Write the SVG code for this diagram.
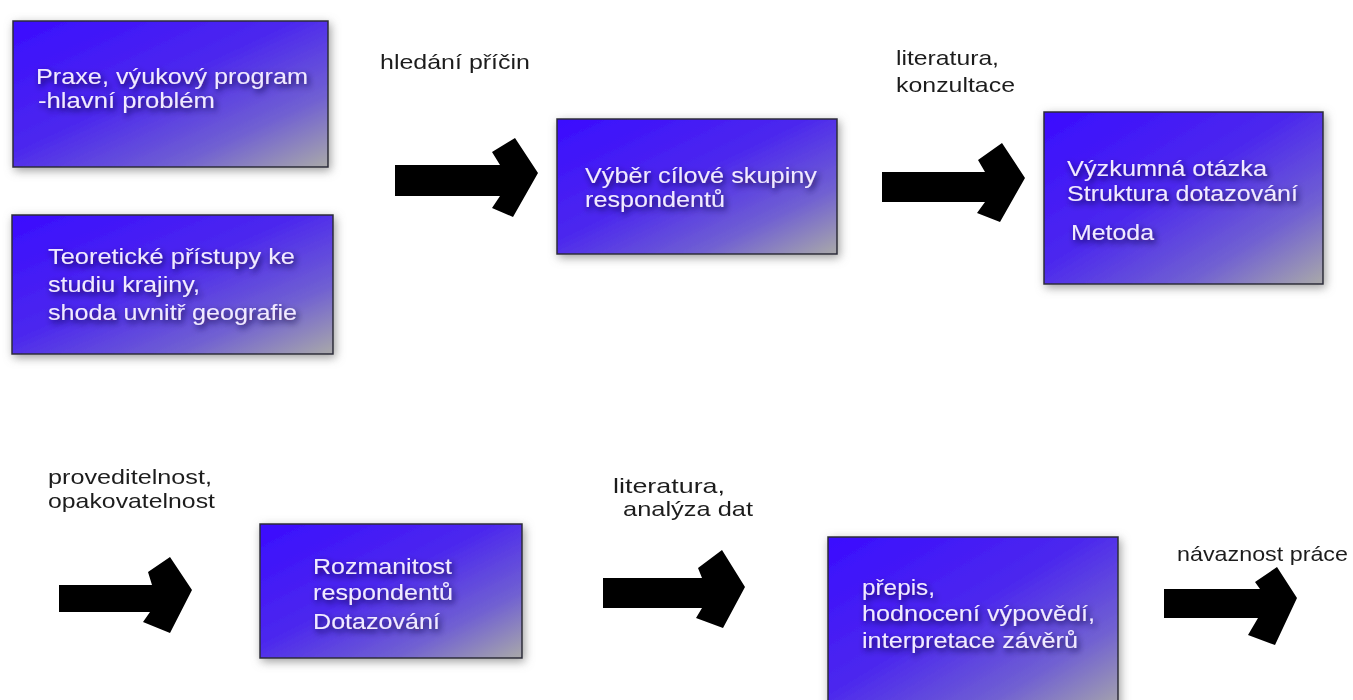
<svg xmlns="http://www.w3.org/2000/svg" width="1353" height="700" viewBox="0 0 1353 700">
<defs>
<linearGradient id="g" x1="0" y1="0" x2="1" y2="1">
<stop offset="0" stop-color="#3a0cff"/>
<stop offset="0.45" stop-color="#4c28ee"/>
<stop offset="0.75" stop-color="#7060d2"/>
<stop offset="1" stop-color="#a9a9a9"/>
</linearGradient>
<filter id="sh" x="-10%" y="-15%" width="120%" height="130%">
<feGaussianBlur in="SourceAlpha" stdDeviation="5"/>
<feOffset dx="2" dy="3" result="b"/>
<feFlood flood-color="#777" flood-opacity="0.7"/>
<feComposite in2="b" operator="in" result="s"/>
<feMerge><feMergeNode in="s"/><feMergeNode in="SourceGraphic"/></feMerge>
</filter>
<filter id="glow" x="-10%" y="-40%" width="120%" height="180%">
<feGaussianBlur in="SourceAlpha" stdDeviation="3"/>
<feOffset dx="2" dy="3" result="b"/>
<feFlood flood-color="#140830" flood-opacity="0.85"/>
<feComposite in2="b" operator="in" result="s"/>
<feMerge><feMergeNode in="s"/><feMergeNode in="SourceGraphic"/></feMerge>
</filter>
<filter id="soft"><feGaussianBlur stdDeviation="0.4"/></filter>
</defs>
<style>
.box{fill:url(#g);stroke:#2b2b3a;stroke-width:1.5;filter:url(#sh)}
.bt{font-family:"Liberation Sans",Arial,sans-serif;font-size:21.5px;fill:#f1eaff;filter:url(#glow)}
.lbl{font-family:"Liberation Sans",Arial,sans-serif;font-size:21px;fill:#1e1e1e;filter:url(#soft)}
.arr{fill:#000}
</style>
<rect width="1353" height="700" fill="#fff"/>

<g id="n1">
<rect class="box" x="13" y="21" width="315" height="146"/>
<text class="bt" x="36" y="84" textLength="272" lengthAdjust="spacingAndGlyphs">Praxe, výukový program</text>
<text class="bt" x="38" y="108" textLength="177" lengthAdjust="spacingAndGlyphs">-hlavní problém</text>
</g>
<g id="n2">
<rect class="box" x="12" y="215" width="321" height="139"/>
<text class="bt" x="48" y="264" textLength="247" lengthAdjust="spacingAndGlyphs">Teoretické přístupy ke</text>
<text class="bt" x="48" y="292" textLength="152" lengthAdjust="spacingAndGlyphs">studiu krajiny,</text>
<text class="bt" x="48" y="320" textLength="249" lengthAdjust="spacingAndGlyphs">shoda uvnitř geografie</text>
</g>
<g id="n3">
<rect class="box" x="557" y="119" width="280" height="135"/>
<text class="bt" x="585" y="183" textLength="232" lengthAdjust="spacingAndGlyphs">Výběr cílové skupiny</text>
<text class="bt" x="585" y="207" textLength="140" lengthAdjust="spacingAndGlyphs">respondentů</text>
</g>
<g id="n4">
<rect class="box" x="1044" y="112" width="279" height="172"/>
<text class="bt" x="1067" y="176" textLength="200" lengthAdjust="spacingAndGlyphs">Výzkumná otázka</text>
<text class="bt" x="1067" y="201" textLength="231" lengthAdjust="spacingAndGlyphs">Struktura dotazování</text>
<text class="bt" x="1071" y="240" textLength="83" lengthAdjust="spacingAndGlyphs">Metoda</text>
</g>
<g id="n5">
<rect class="box" x="260" y="524" width="262" height="134"/>
<text class="bt" x="313" y="574" textLength="139" lengthAdjust="spacingAndGlyphs">Rozmanitost</text>
<text class="bt" x="313" y="600" textLength="140" lengthAdjust="spacingAndGlyphs">respondentů</text>
<text class="bt" x="313" y="629" textLength="127" lengthAdjust="spacingAndGlyphs">Dotazování</text>
</g>
<g id="n6">
<rect class="box" x="828" y="537" width="290" height="175"/>
<text class="bt" x="862" y="595" textLength="73" lengthAdjust="spacingAndGlyphs">přepis,</text>
<text class="bt" x="862" y="621" textLength="233" lengthAdjust="spacingAndGlyphs">hodnocení výpovědí,</text>
<text class="bt" x="862" y="648" textLength="216" lengthAdjust="spacingAndGlyphs">interpretace závěrů</text>
</g>

<g id="connectors">
<polygon class="arr" points="395,165 500,165 492,152 515,138 538,173 513,217 492,208 500,196 395,196"/>
<polygon class="arr" points="882,172 985,172 978,160 1002,143 1025,178 1000,222 977,213 985,202 882,202"/>
<polygon class="arr" points="59,585 152,585 148,572 170,557 192,590 170,633 143,622 150,612 59,612"/>
<polygon class="arr" points="603,578 702,578 698,568 722,550 745,587 723,628 696,618 702,608 603,608"/>
<polygon class="arr" points="1164,589 1260,589 1255,582 1277,567 1297,598 1275,645 1248,635 1258,618 1164,618"/>
<text class="lbl" x="380" y="69" textLength="150" lengthAdjust="spacingAndGlyphs">hledání příčin</text>
<text class="lbl" x="896" y="65" textLength="103" lengthAdjust="spacingAndGlyphs">literatura,</text>
<text class="lbl" x="896" y="92" textLength="119" lengthAdjust="spacingAndGlyphs">konzultace</text>
<text class="lbl" x="48" y="484" textLength="164" lengthAdjust="spacingAndGlyphs">proveditelnost,</text>
<text class="lbl" x="48" y="508" textLength="167" lengthAdjust="spacingAndGlyphs">opakovatelnost</text>
<text class="lbl" x="613" y="493" textLength="112" lengthAdjust="spacingAndGlyphs">literatura,</text>
<text class="lbl" x="623" y="516" textLength="130" lengthAdjust="spacingAndGlyphs">analýza dat</text>
<text class="lbl" x="1177" y="561" textLength="171" lengthAdjust="spacingAndGlyphs">návaznost práce</text>
</g>
</svg>
